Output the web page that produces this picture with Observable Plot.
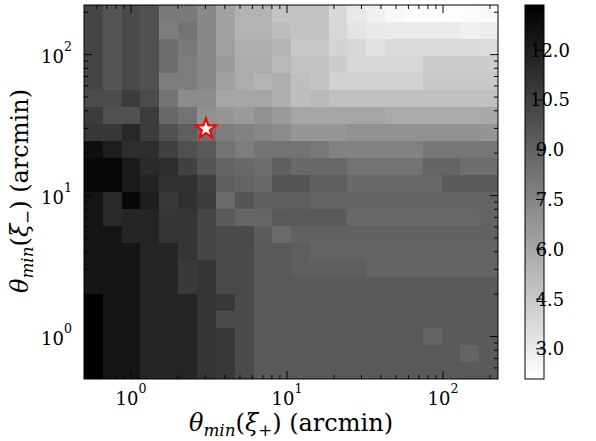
<!DOCTYPE html>
<html><head><meta charset="utf-8">
<script src="https://cdn.jsdelivr.net/npm/d3@7"></script>
<script src="https://cdn.jsdelivr.net/npm/@observablehq/plot@0.6"></script>
<style>
body{margin:0;background:#fff;}
#wrap{position:relative;width:596px;height:441px;font-family:"DejaVu Serif",serif;}
#wrap svg{position:absolute;left:0;top:0;overflow:visible;background:none;}
</style></head><body><div id="wrap"></div>
<script>
// log-spaced bin edges of theta_min (arcmin), same for both axes
const thetaEdges = [0.5, 0.66, 0.872, 1.151, 1.52, 2.007, 2.65, 3.499, 4.62, 6.10, 8.04, 10.61,
  14.01, 18.50, 24.42, 32.24, 42.57, 56.17, 74.16, 97.82, 129.2, 170.6, 225.1];

// values, rows from top (largest theta_min(xi-)) to bottom; columns left to right
const row00 = [10.31, 9.60, 10.09, 9.82, 7.97, 7.97, 7.35, 6.20, 5.45, 5.45, 4.74, 4.74, 4.74, 3.81, 3.11, 2.75, 2.40, 2.22, 2.18, 2.13, 2.22, 2.31];
const row01 = [10.31, 9.60, 10.09, 9.82, 7.84, 8.28, 7.35, 6.20, 5.45, 5.45, 4.96, 4.74, 4.74, 3.86, 3.28, 3.06, 2.97, 2.97, 2.97, 2.97, 2.75, 2.84];
const row02 = [10.31, 9.60, 10.09, 9.82, 8.50, 8.06, 7.35, 6.29, 5.63, 5.63, 5.40, 4.52, 4.52, 3.99, 3.86, 3.41, 3.72, 3.72, 3.72, 3.72, 3.72, 3.64];
const row03 = [10.31, 9.60, 10.09, 9.82, 8.50, 7.84, 7.35, 6.51, 5.76, 5.76, 5.18, 4.74, 4.74, 4.30, 3.86, 3.86, 3.86, 3.86, 4.30, 4.30, 4.30, 4.30];
const row04 = [10.31, 9.60, 10.09, 9.82, 7.84, 7.84, 7.35, 6.29, 5.76, 5.40, 5.63, 4.96, 4.74, 4.08, 4.08, 4.08, 4.08, 4.08, 4.52, 4.52, 4.52, 4.52];
const row05 = [10.05, 10.05, 10.71, 10.05, 8.28, 7.17, 7.17, 6.07, 6.07, 6.07, 5.63, 4.96, 5.18, 4.87, 4.87, 4.87, 4.87, 4.87, 4.87, 4.87, 4.87, 4.87];
const row06 = [10.71, 9.82, 9.82, 10.71, 8.72, 8.28, 6.95, 6.73, 6.51, 6.95, 6.51, 6.07, 6.07, 6.07, 6.07, 6.07, 5.85, 5.85, 5.85, 5.85, 5.85, 5.93];
const row07 = [10.93, 10.93, 11.59, 10.71, 9.82, 9.16, 8.50, 7.84, 7.61, 7.39, 7.17, 6.73, 6.73, 6.73, 6.95, 6.95, 6.95, 6.95, 6.95, 6.95, 6.95, 6.82];
const row08 = [12.70, 12.03, 11.37, 11.37, 10.49, 9.82, 9.38, 8.28, 7.84, 8.28, 8.28, 8.28, 8.06, 7.61, 7.61, 7.61, 7.61, 7.61, 8.14, 8.14, 8.14, 8.14];
const row09 = [13.01, 13.01, 12.21, 11.50, 11.37, 10.49, 9.60, 8.94, 8.72, 8.50, 9.16, 8.72, 8.72, 8.72, 8.28, 8.28, 8.28, 8.28, 8.94, 8.94, 8.50, 8.50];
const row10 = [13.01, 13.01, 12.21, 11.81, 11.15, 11.15, 10.49, 9.16, 8.94, 8.72, 9.60, 9.60, 9.16, 9.16, 8.72, 8.72, 8.72, 8.72, 8.72, 9.38, 9.38, 9.38];
const row11 = [12.43, 11.50, 13.01, 12.03, 10.80, 11.24, 10.71, 8.67, 9.60, 9.12, 9.12, 9.21, 8.94, 8.94, 8.94, 8.94, 8.94, 8.94, 8.94, 8.94, 8.94, 8.94];
const row12 = [12.43, 11.50, 11.72, 11.72, 11.02, 11.02, 10.31, 9.38, 8.90, 8.90, 9.38, 9.38, 9.38, 9.38, 8.76, 8.76, 8.76, 8.76, 8.76, 8.76, 8.76, 8.94];
const row13 = [12.43, 12.43, 11.72, 11.72, 11.02, 11.02, 10.31, 10.09, 10.09, 9.29, 8.67, 9.03, 9.03, 9.03, 9.03, 9.03, 9.03, 9.03, 9.03, 9.03, 9.03, 9.03];
const row14 = [12.43, 12.43, 12.43, 11.72, 11.72, 11.02, 10.31, 10.09, 10.09, 9.38, 9.38, 9.21, 8.94, 8.94, 8.94, 8.94, 8.94, 8.94, 8.94, 8.94, 8.94, 8.94];
const row15 = [12.43, 12.43, 12.43, 11.72, 11.72, 10.80, 11.02, 10.09, 10.09, 9.38, 9.38, 9.21, 9.21, 9.21, 9.21, 8.94, 8.94, 8.94, 8.94, 8.94, 8.94, 8.94];
const row16 = [12.43, 12.43, 12.43, 11.72, 11.72, 10.80, 11.02, 10.09, 10.09, 9.38, 9.38, 9.38, 9.38, 9.38, 9.38, 9.38, 9.38, 9.38, 9.38, 9.38, 9.38, 9.38];
const row17 = [13.30, 12.43, 12.43, 11.72, 11.72, 11.72, 11.02, 10.89, 10.09, 9.38, 9.38, 9.38, 9.38, 9.38, 9.38, 9.38, 9.38, 9.38, 9.38, 9.38, 9.38, 9.38];
const row18 = [13.30, 12.43, 12.43, 11.72, 11.72, 11.72, 11.02, 10.09, 10.09, 9.38, 9.38, 9.38, 9.38, 9.38, 9.38, 9.38, 9.38, 9.38, 9.38, 9.38, 9.38, 9.38];
const row19 = [13.30, 12.43, 12.43, 11.72, 11.72, 11.72, 11.02, 10.89, 10.09, 9.38, 9.38, 9.38, 9.38, 9.38, 9.38, 9.38, 9.38, 9.38, 8.94, 9.38, 9.38, 9.38];
const row20 = [13.30, 12.43, 12.43, 11.72, 11.72, 11.72, 11.02, 10.89, 10.09, 9.38, 9.38, 9.38, 9.38, 9.38, 9.38, 9.38, 9.38, 9.38, 9.38, 9.38, 8.94, 9.38];
const row21 = [13.30, 12.43, 12.43, 11.72, 11.72, 11.72, 11.02, 10.89, 10.09, 9.38, 9.38, 9.38, 9.38, 9.38, 9.38, 9.38, 9.38, 9.38, 9.38, 9.38, 9.38, 9.38];

const starPoint = [{x: 3.0, y: 30.0}];
const colorMin = 2.09, colorMax = 13.36;
const majorTicks = [1, 10, 100];
const majorExponents = ["0", "1", "2"];
const minorTicks = [0.6, 0.7, 0.8, 0.9, 2, 3, 4, 5, 6, 7, 8, 9, 20, 30, 40, 50, 60, 70, 80, 90, 200];
const cbTicks = [3.0, 4.5, 6.0, 7.5, 9.0, 10.5, 12.0];
const xLabel = ["θ", "min", "(", "ξ", "+", ") (arcmin)"];
const yLabel = ["θ", "min", "(", "ξ", "−", ") (arcmin)"];

const rows = [row00,row01,row02,row03,row04,row05,row06,row07,row08,row09,row10,
  row11,row12,row13,row14,row15,row16,row17,row18,row19,row20,row21];
const n = rows.length;
const cells = rows.flatMap((row, i) => row.map((v, j) => ({
  x1: thetaEdges[j], x2: thetaEdges[j + 1],
  y1: thetaEdges[n - 1 - i], y2: thetaEdges[n - i], v
})));

const colorOpts = {type: "linear", domain: [colorMin, colorMax], range: ["#ffffff", "#000000"], interpolate: "rgb"};
const FONT = "DejaVu Serif";
const TICK_FS = 18, LABEL_FS = 24;

function addLabel(g, parts, x, y, rotate) {
  const t = g.append("text").attr("font-family", FONT).attr("font-size", LABEL_FS)
    .attr("text-anchor", "middle").attr("fill", "black")
    .attr("transform", `translate(${x},${y})` + (rotate ? " rotate(-90)" : ""));
  t.append("tspan").attr("font-style", "italic").text(parts[0]);
  t.append("tspan").attr("font-style", "italic").attr("font-size", LABEL_FS * 0.7).attr("dy", 5).text(parts[1]);
  t.append("tspan").attr("dy", -5).text(parts[2]);
  t.append("tspan").attr("font-style", "italic").text(parts[3]);
  t.append("tspan").attr("font-size", LABEL_FS * 0.7).attr("dy", 5).text(parts[4]);
  t.append("tspan").attr("dy", -5).text(parts[5]);
}

function axesMark(index, scales, values, dim) {
  const {x, y} = scales;
  const L = dim.marginLeft, R = dim.width - dim.marginRight, T = dim.marginTop, B = dim.height - dim.marginBottom;
  const g = d3.create("svg:g");
  const lines = g.append("g").attr("stroke", "black").attr("stroke-width", 1);
  const ln = (a, b, c, d) => lines.append("line").attr("x1", a).attr("y1", b).attr("x2", c).attr("y2", d);
  const all = majorTicks.map(t => [t, 8]).concat(minorTicks.map(t => [t, 4]));
  for (const [t, len] of all) {
    const px = x(t), py = y(t);
    if (px > L && px < R) { ln(px, B, px, B - len); ln(px, T, px, T + len); }
    if (py > T && py < B) { ln(L, py, L + len, py); ln(R, py, R - len, py); }
  }
  g.append("rect").attr("x", L).attr("y", T).attr("width", R - L).attr("height", B - T)
    .attr("fill", "none").attr("stroke", "black").attr("stroke-width", 1);
  const tl = g.append("g").attr("font-family", FONT).attr("font-size", TICK_FS).attr("fill", "black");
  majorTicks.forEach((t, i) => {
    const tx = tl.append("text").attr("x", x(t)).attr("y", B + 26).attr("text-anchor", "middle");
    tx.append("tspan").text("10");
    tx.append("tspan").attr("font-size", TICK_FS * 0.7).attr("dy", -12).text(majorExponents[i]);
    const ty = tl.append("text").attr("x", L - 12).attr("y", y(t) + 8).attr("text-anchor", "end");
    ty.append("tspan").text("10");
    ty.append("tspan").attr("font-size", TICK_FS * 0.7).attr("dy", -12).text(majorExponents[i]);
  });
  addLabel(g, xLabel, (L + R) / 2, 431, false);
  addLabel(g, yLabel, 28, 191, true);
  return g.node();
}

function cbarMark(index, scales, values, dim) {
  const {y} = scales;
  const L = dim.marginLeft, R = dim.width - dim.marginRight, T = dim.marginTop, B = dim.height - dim.marginBottom;
  const g = d3.create("svg:g");
  for (const t of cbTicks) {
    g.append("line").attr("x1", R).attr("x2", R - 8).attr("y1", y(t)).attr("y2", y(t)).attr("stroke", "black");
    g.append("text").attr("x", R + 6).attr("y", y(t) + 6.5).attr("font-family", FONT).attr("font-size", TICK_FS)
      .attr("fill", "black").text(t.toFixed(1));
  }
  g.append("rect").attr("x", L).attr("y", T).attr("width", R - L).attr("height", B - T)
    .attr("fill", "none").attr("stroke", "black").attr("stroke-width", 1);
  return g.node();
}

const main = Plot.plot({
  width: 596, height: 441,
  marginLeft: 84, marginRight: 98, marginTop: 5, marginBottom: 62,
  style: {background: "transparent", overflow: "visible"},
  x: {type: "log", domain: [thetaEdges[0], thetaEdges[n]], axis: null},
  y: {type: "log", domain: [thetaEdges[0], thetaEdges[n]], axis: null},
  color: colorOpts,
  marks: [
    Plot.rect(cells, {x1: "x1", x2: "x2", y1: "y1", y2: "y2", fill: "v", shapeRendering: "crispEdges"}),
    Plot.dot(starPoint, {x: "x", y: "y", symbol: "star", r: 6.4, fill: "white", stroke: "red", strokeWidth: 2}),
    axesMark
  ]
});

const steps = 256;
const ramp = d3.range(steps).map(i => ({
  lo: colorMin + (colorMax - colorMin) * i / steps,
  hi: colorMin + (colorMax - colorMin) * (i + 1) / steps,
  mid: colorMin + (colorMax - colorMin) * (i + 0.5) / steps
}));
const cbar = Plot.plot({
  width: 596, height: 441,
  marginLeft: 525, marginRight: 52, marginTop: 5, marginBottom: 62,
  style: {background: "transparent", overflow: "visible"},
  x: {axis: null},
  y: {domain: [colorMin, colorMax], axis: null},
  color: colorOpts,
  marks: [
    Plot.rect(ramp, {y1: "lo", y2: "hi", fill: "mid", shapeRendering: "crispEdges"}),
    cbarMark
  ]
});
const wrap = document.getElementById("wrap");
wrap.appendChild(main);
wrap.appendChild(cbar);
</script></body></html>
